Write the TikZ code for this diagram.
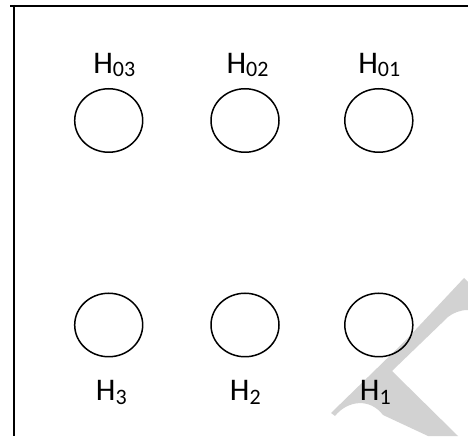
\documentclass[tikz,border=0pt]{standalone}
\usepackage{fontspec}
\setmainfont{Carlito}
\usepackage{tikz}
\usetikzlibrary{shapes.geometric}
\definecolor{ink}{HTML}{000000}
\definecolor{wmark}{HTML}{D2D2D2}
\newcommand{\hname}[1]{H\raisebox{-3.5pt}{\fontsize{22}{24}\selectfont #1}}

\begin{document}
\begin{tikzpicture}[
  x=1pt, y=1pt,
  hole/.style={ellipse, draw=ink, line width=1.5pt, minimum width=68pt,
    minimum height=63.5pt, inner sep=0pt},
  hlabel/.style={anchor=base, inner sep=0pt, text=ink,
    font=\fontsize{31.5}{36}\selectfont},
  frame/.style={draw=ink, line width=1.6pt},
]
  \useasboundingbox (0,0) rectangle (468,436);

  % watermark corner
  \fill[wmark] (464,158) -- (468,154) -- (468,126)
    .. controls (460,126) and (453,123) .. (448,119) -- (392,65)
    -- (458,0) -- (428,0) -- (383,21)
    .. controls (370,38) and (348,36) .. (335,20)
    -- (331,23) -- (405,95) -- cycle;

  % frame
  \draw[frame] (10,430) -- (468,430);
  \draw[frame, line width=1.3pt] (14,431) -- (14,0);

  % upper row
  \node[hole] (h03) at (108.7,315.5) {};
  \node[hole] (h02) at (245,315.5) {};
  \node[hole] (h01) at (378.8,315.5) {};
  \node[hlabel] (l03) at (114.3,362.5) {\hname{03}};
  \node[hlabel] (l02) at (247.5,362.5) {\hname{02}};
  \node[hlabel] (l01) at (379.3,362.5) {\hname{01}};

  % lower row
  \node[hole] (h3) at (108.7,111) {};
  \node[hole] (h2) at (245,111) {};
  \node[hole] (h1) at (378.8,111) {};
  \node[hlabel] (l3) at (111.3,35) {\hname{3}};
  \node[hlabel] (l2) at (245.3,35) {\hname{2}};
  \node[hlabel] (l1) at (375.3,35) {\hname{1}};
\end{tikzpicture}
\end{document}
